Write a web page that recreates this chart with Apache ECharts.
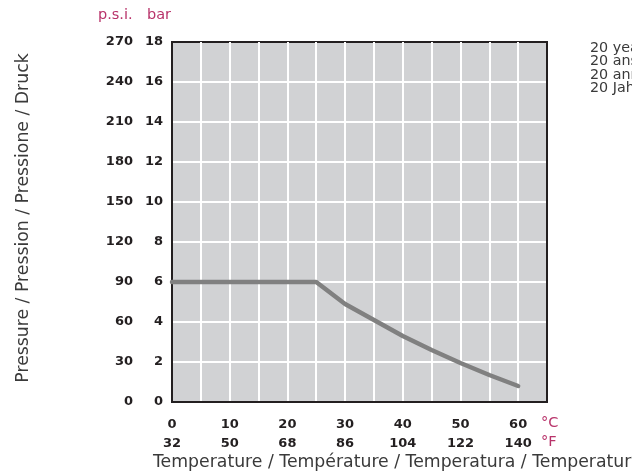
<!DOCTYPE html>
<html>
<head>
<meta charset="utf-8">
<script src="https://cdn.jsdelivr.net/npm/echarts@6/dist/echarts.min.js"></script>
<style>
html,body{margin:0;padding:0;background:#fff;}
#main{width:632px;height:475px;}
</style>
</head>
<body>
<div id="main"></div>
<script>
// Data
var tempC = [0, 25, 30, 35, 40, 45, 50, 55, 60];
var pressureBar = [6, 6, 4.9, 4.1, 3.3, 2.6, 1.95, 1.35, 0.8];
var celsiusTicks = [0, 10, 20, 30, 40, 50, 60];
var fahrenheitTicks = [32, 50, 68, 86, 104, 122, 140];
var legendLines = ['20 years', '20 ans', '20 anni', '20 Jahre'];

var MAG = '#b8336a';
var FONT = '"DejaVu Sans", sans-serif';
var LFONT = '"DejaVu Sans", sans-serif';
var DARK = '#231f20';

var chart = echarts.init(document.getElementById('main'), null, {renderer: 'canvas'});

var seriesData = tempC.map(function (t, i) { return [t, pressureBar[i]]; });

var option = {
  animation: false,
  backgroundColor: '#ffffff',
  grid: {
    left: 172, top: 42, width: 375, height: 360,
    show: true, backgroundColor: '#d1d2d4', borderColor: DARK, borderWidth: 2
  },
  xAxis: [
    {
      type: 'value', min: 0, max: 65, interval: 5, z: 1,
      axisLine: {show: true, lineStyle: {color: DARK, width: 2}},
      axisTick: {show: false},
      splitLine: {show: true, showMinLine: false, showMaxLine: false, lineStyle: {color: '#ffffff', width: 2}},
      axisLabel: {
        margin: 13,
        formatter: function (v) {
          var idx = celsiusTicks.indexOf(v);
          if (idx < 0) return '';
          return '{c|' + celsiusTicks[idx] + '}\n{f|' + fahrenheitTicks[idx] + '}';
        },
        rich: {
          c: {fontFamily: FONT, fontWeight: 'bold', fontSize: 13, color: DARK, lineHeight: 19},
          f: {fontFamily: FONT, fontWeight: 'bold', fontSize: 13, color: DARK, lineHeight: 19}
        }
      }
    },
    {
      type: 'value', min: 0, max: 65, position: 'top', z: 5,
      axisLine: {show: true, lineStyle: {color: DARK, width: 2}},
      axisTick: {show: false}, axisLabel: {show: false}, splitLine: {show: false}
    }
  ],
  yAxis: [
    {
      type: 'value', min: 0, max: 18, interval: 2, position: 'left', z: 1,
      axisLine: {show: true, lineStyle: {color: DARK, width: 2}},
      axisTick: {show: false},
      splitLine: {show: true, showMinLine: false, showMaxLine: false, lineStyle: {color: '#ffffff', width: 2}},
      axisLabel: {margin: 9, fontFamily: FONT, fontWeight: 'bold', fontSize: 13, color: DARK}
    },
    {
      type: 'value', min: 0, max: 270, interval: 30, position: 'left', offset: 30,
      axisLine: {show: false}, axisTick: {show: false}, splitLine: {show: false},
      axisLabel: {margin: 9, fontFamily: FONT, fontWeight: 'bold', fontSize: 13, color: DARK}
    },
    {
      type: 'value', min: 0, max: 18, position: 'right', z: 5,
      axisLine: {show: true, lineStyle: {color: DARK, width: 2}},
      axisTick: {show: false}, axisLabel: {show: false}, splitLine: {show: false}
    }
  ],
  series: [{
    type: 'line', data: seriesData, xAxisIndex: 0, yAxisIndex: 0,
    showSymbol: false, smooth: false,
    lineStyle: {color: '#808080', width: 4.5, cap: 'round', join: 'round'}
  }],
  graphic: [
    {type: 'text', left: 98, top: 8, style: {text: 'p.s.i.', fontFamily: LFONT, fontSize: 14.5, fill: MAG}},
    {type: 'text', left: 147, top: 8, style: {text: 'bar', fontFamily: LFONT, fontSize: 14.5, fill: MAG}},
    {type: 'text', left: 541, top: 416, style: {text: '°C', fontFamily: LFONT, fontSize: 14.5, fill: MAG}},
    {type: 'text', left: 541, top: 435, style: {text: '°F', fontFamily: LFONT, fontSize: 14.5, fill: MAG}},
    {type: 'text', left: 153, top: 454, style: {text: 'Temperature / Température / Temperatura / Temperatur', fontFamily: LFONT, fontSize: 17.3, fill: '#3a3a3a'}},
    {type: 'text', x: 24, y: 218, rotation: Math.PI / 2,
      style: {text: 'Pressure / Pression / Pressione / Druck', fontFamily: LFONT, fontSize: 17.3, fill: '#3a3a3a', align: 'center', verticalAlign: 'middle'}},
    {type: 'text', left: 590, top: 41, style: {text: legendLines.join('\n'), fontFamily: LFONT, fontSize: 14.3, lineHeight: 13.4, fill: '#3a3a3a'}}
  ]
};
chart.setOption(option);
</script>
</body>
</html>
